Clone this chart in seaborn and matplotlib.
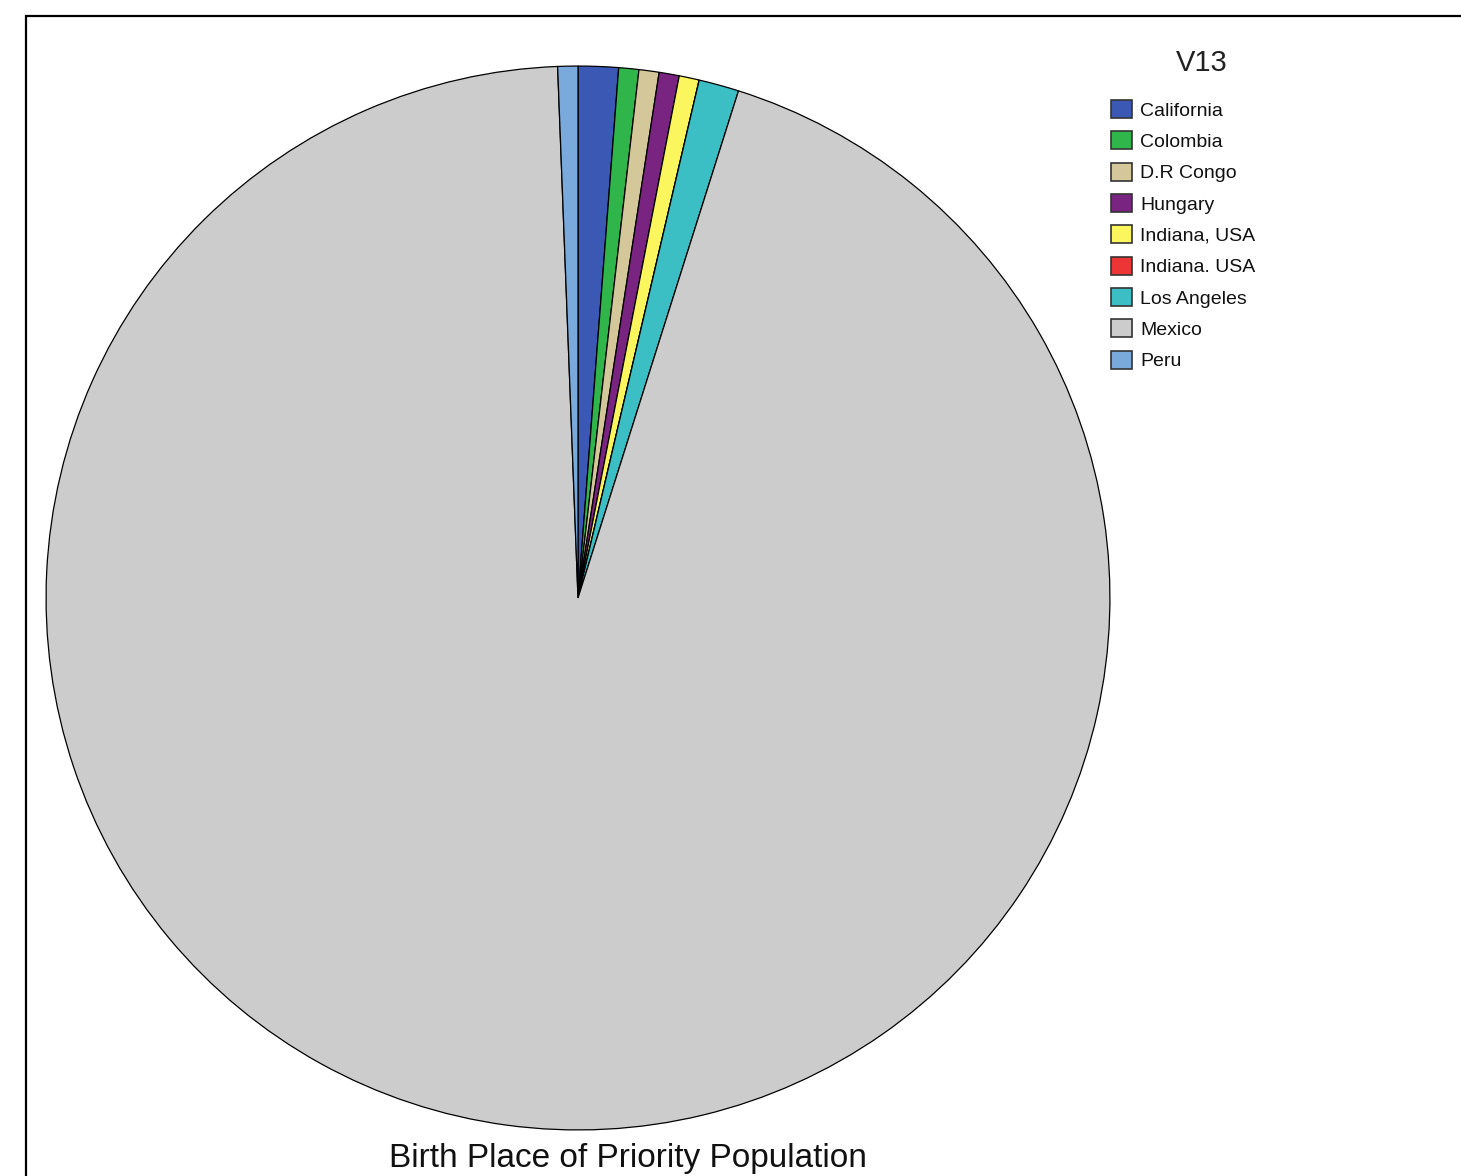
import matplotlib
matplotlib.use("Agg")
import matplotlib.pyplot as plt
from matplotlib.patches import Rectangle
import seaborn as sns

categories = ["California", "Colombia", "D.R Congo", "Hungary", "Indiana, USA",
              "Indiana. USA", "Los Angeles", "Mexico", "Peru"]
counts = [2, 1, 1, 1, 1, 0, 2, 155, 1]
colors = ["#3b58b4", "#2fb54a", "#d4c89a", "#7a2482", "#fbf55e",
          "#ee3535", "#3cbfc4", "#cccccc", "#7aa9dc"]
legend_title = "V13"
chart_title = "Birth Place of Priority Population"

sns.set_theme(style="white")
plt.rcParams["font.family"] = ["Liberation Sans", "DejaVu Sans"]

W, H = 1461, 1176
fig = plt.figure(figsize=(W / 100, H / 100), dpi=100)
fig.patch.set_facecolor("white")

# outer frame
fig.patches.append(Rectangle((26 / W, -0.05), 1.1, 1 - 16 / H + 0.05,
                             transform=fig.transFigure, fill=False,
                             edgecolor="black", linewidth=1.6))

cx, cy, r = 578, 598, 533
ax = fig.add_axes([(cx - r) / W, (H - cy - r) / H, 2 * r / W, 2 * r / H])
wedges, _ = ax.pie(counts, colors=colors, startangle=90, counterclock=False,
                   radius=1.0,
                   wedgeprops=dict(edgecolor="black", linewidth=0.9))
ax.set_xlim(-1.002, 1.002)
ax.set_ylim(-1.002, 1.002)
ax.set_aspect("equal")
ax.axis("off")

leg = fig.legend(wedges, categories,
                 loc="upper left",
                 bbox_to_anchor=(1111 / W, 1 - 100 / H),
                 frameon=False, fontsize=14,
                 handlelength=1.1, handleheight=1.05, handletextpad=0.4,
                 labelspacing=0.6, borderpad=0, borderaxespad=0)
for t in leg.get_texts():
    t.set_color("#111111")
for h in leg.legend_handles:
    h.set_edgecolor("#333333")
    h.set_linewidth(1.2)

fig.text(1202 / W, 1 - 63 / H, legend_title, ha="center", va="center",
         fontsize=21, color="#222222")

fig.text(628 / W, 1 - 1158 / H, chart_title, ha="center", va="center",
         fontsize=24, color="#111111")

fig.savefig("out.png", dpi=100)
